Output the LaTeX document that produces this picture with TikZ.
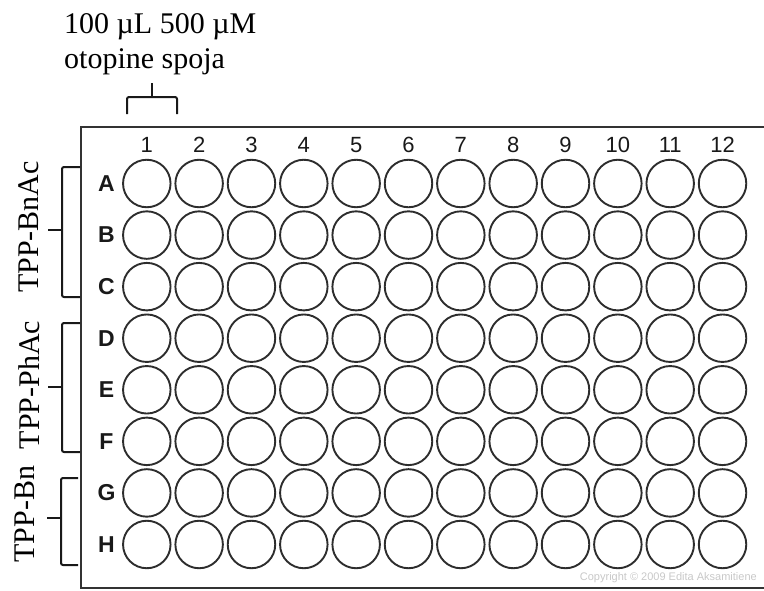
\documentclass[tikz,border=0pt]{standalone}
\usepackage{fontspec}
\setmainfont{Liberation Serif}
\newfontfamily\arialf{Liberation Sans}
\definecolor{wellc}{RGB}{45,45,45}
\definecolor{copyc}{RGB}{200,200,200}
\begin{document}
\begin{tikzpicture}[x=1pt,y=-1pt,
  well/.style={circle,draw=wellc,line width=1.9pt,minimum size=47.5pt,inner sep=0pt},
  rowlab/.style={font=\arialf\bfseries\fontsize{23}{27}\selectfont,text=black!90,anchor=center,inner sep=0pt},
  collab/.style={font=\arialf\fontsize{22}{26}\selectfont,text=black!90,anchor=center,inner sep=0pt},
  serlab/.style={font=\fontsize{30}{36}\selectfont,inner sep=0pt},
  bracket/.style={line width=2pt,black!90,rounded corners=2pt},
  plate/.style={line width=2pt,black!80}]
\useasboundingbox (0,0) rectangle (764,590);
% plate outline (cut at right edge)
\draw[plate] (764,127) -- (81,127) -- (81,588) -- (764,588);
% wells
\foreach \r [count=\ri from 0] in {A,B,C,D,E,F,G,H}{
  \node[rowlab] (row-\r) at (106.5,183.5+51.57*\ri) {\r};
  \foreach \c in {1,...,12}{
    \node[well] (w-\r-\c) at ({146.8+52.34*(\c-1)},{183.5+51.57*\ri}) {};
  }
}
\foreach \c in {1,...,12}{
  \node[collab] (col-\c) at ({146.8+52.34*(\c-1)},145) {\c};
}
% top label
\node[serlab,anchor=base west] (t1) at (64,33) {100 µL 500 µM};
\node[serlab,anchor=base west] (t2) at (64,68) {otopine spoja};
\draw[bracket] (127,114) -- (127,97) -- (177,97) -- (177,114);
\draw[line width=2pt,black!90] (152,97) -- (152,83);
% left brackets
\draw[bracket] (80,167) -- (62,167) -- (62,297) -- (80,297);
\draw[line width=2pt,black!90] (62,230) -- (48,230);
\draw[bracket] (80,323) -- (62,323) -- (62,452) -- (80,452);
\draw[line width=2pt,black!90] (62,387) -- (48,387);
\draw[bracket] (78,478) -- (61,478) -- (61,565) -- (78,565);
\draw[line width=2pt,black!90] (61,518) -- (47,518);
\node[serlab,rotate=90,anchor=center] (bnac) at (29,227) {TPP-BnAc};
\node[serlab,rotate=90,anchor=center] (phac) at (29,385) {TPP-PhAc};
\node[serlab,rotate=90,anchor=center] (bn) at (25,514) {TPP-Bn};
% copyright
\node[font=\arialf\fontsize{11}{13}\selectfont,text=copyc,anchor=east,inner sep=0pt] (copy) at (757,578) {Copyright © 2009 Edita Aksamitiene};
\end{tikzpicture}
\end{document}
